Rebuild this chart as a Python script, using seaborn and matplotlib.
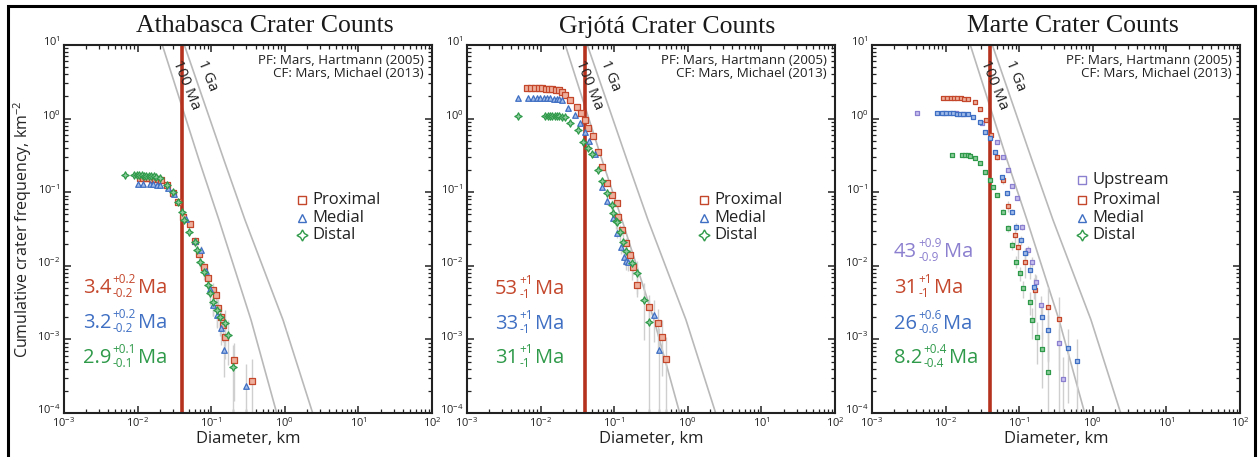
import numpy as np
import pandas as pd
import matplotlib
matplotlib.use("Agg")
import matplotlib.pyplot as plt
import matplotlib.transforms as mtransforms
import seaborn as sns
from matplotlib.patches import Rectangle
from matplotlib.ticker import LogLocator, LogFormatterSciNotation, NullFormatter

# ---------------- crater size-frequency data (D in km, N in km^-2) ----------------
# Athabasca
ath_prox_D = [0.0107, 0.0118, 0.0130, 0.0143, 0.0157, 0.0172, 0.0190, 0.0205, 0.0250, 0.0300,
              0.0350, 0.0418, 0.0515, 0.0600, 0.0689, 0.0806, 0.0895, 0.107, 0.116, 0.125,
              0.135, 0.146, 0.154, 0.204, 0.355]
ath_prox_N = [0.155, 0.155, 0.154, 0.154, 0.153, 0.152, 0.150, 0.146, 0.125, 0.098,
              0.074, 0.0456, 0.037, 0.022, 0.0143, 0.0097, 0.00676, 0.00469, 0.00401, 0.0027,
              0.0020, 0.00157, 0.00109, 0.000525, 0.000275]
ath_med_D = [0.0101, 0.0120, 0.0148, 0.0162, 0.0185, 0.0202, 0.0255, 0.0310, 0.0455, 0.0603,
             0.0720, 0.0850, 0.0970, 0.107, 0.119, 0.136, 0.151, 0.297]
ath_med_N = [0.129, 0.130, 0.129, 0.129, 0.127, 0.125, 0.115, 0.095, 0.0428, 0.0217,
             0.0164, 0.0085, 0.0048, 0.00293, 0.00215, 0.00141, 0.000718, 0.000233]
ath_dist_D = [0.00675, 0.0088, 0.0097, 0.0105, 0.0113, 0.0122, 0.0132, 0.0142, 0.0153, 0.0165,
              0.0178, 0.0200, 0.0254, 0.0305, 0.0357, 0.0397, 0.0427, 0.0504, 0.0603, 0.0647,
              0.0705, 0.0806, 0.0895, 0.0964, 0.107, 0.119, 0.132, 0.154, 0.171, 0.200]
ath_dist_N = [0.171, 0.170, 0.170, 0.169, 0.169, 0.168, 0.168, 0.167, 0.166, 0.165,
              0.163, 0.155, 0.125, 0.102, 0.0743, 0.0543, 0.0419, 0.029, 0.0212, 0.0164,
              0.0114, 0.0083, 0.00548, 0.00423, 0.00325, 0.0025, 0.00203, 0.00165, 0.00115, 0.000426]

# Grjota
grj_prox_D = [0.0065, 0.0075, 0.0085, 0.0095, 0.0105, 0.0117, 0.0130, 0.0145, 0.0160, 0.0178,
              0.0195, 0.0215, 0.0251, 0.0309, 0.0351, 0.0401, 0.0445, 0.0510, 0.0597, 0.0690,
              0.0806, 0.0924, 0.108, 0.114, 0.129, 0.143, 0.164, 0.182, 0.202, 0.297,
              0.398, 0.451, 0.506]
grj_prox_N = [2.60, 2.60, 2.60, 2.60, 2.58, 2.56, 2.55, 2.52, 2.48, 2.42,
              2.30, 2.10, 1.79, 1.45, 1.18, 0.957, 0.738, 0.580, 0.355, 0.218,
              0.135, 0.0916, 0.0706, 0.0465, 0.0306, 0.0202, 0.0140, 0.0097, 0.00548, 0.00279,
              0.00166, 0.00109, 0.000542]
grj_med_D = [0.00493, 0.0068, 0.0078, 0.0088, 0.0098, 0.0110, 0.0122, 0.0135, 0.0150, 0.0165,
             0.0180, 0.0195, 0.0238, 0.0293, 0.0343, 0.0401, 0.0460, 0.0550, 0.0690, 0.0800,
             0.0950, 0.110, 0.125, 0.137, 0.146, 0.155, 0.351, 0.407]
grj_med_N = [1.92, 1.92, 1.92, 1.91, 1.91, 1.90, 1.89, 1.88, 1.86, 1.84,
             1.82, 1.78, 1.38, 1.12, 0.879, 0.664, 0.50, 0.33, 0.119, 0.075,
             0.045, 0.028, 0.018, 0.0133, 0.0118, 0.0114, 0.00215, 0.000718]
grj_dist_D = [0.00493, 0.0114, 0.0125, 0.0135, 0.0145, 0.0156, 0.0168, 0.0180, 0.0195, 0.0214,
              0.0250, 0.0325, 0.0380, 0.0445, 0.0504, 0.0597, 0.0680, 0.0792, 0.0924, 0.0973,
              0.105, 0.108, 0.120, 0.133, 0.146, 0.173, 0.202, 0.257, 0.299]
grj_dist_N = [1.08, 1.08, 1.08, 1.08, 1.08, 1.07, 1.07, 1.07, 1.06, 1.04,
              0.879, 0.700, 0.485, 0.395, 0.327, 0.200, 0.140, 0.0966, 0.0670, 0.0516,
              0.0400, 0.0397, 0.0290, 0.0212, 0.0160, 0.0108, 0.0079, 0.00343, 0.00174]

# Marte
mar_up_D = [0.00404, 0.0095, 0.0140, 0.0180, 0.0309, 0.0494, 0.0608, 0.0698, 0.0790, 0.0924,
            0.108, 0.130, 0.148, 0.167, 0.198, 0.348, 0.397]
mar_up_N = [1.18, 1.18, 1.18, 1.15, 0.863, 0.485, 0.303, 0.200, 0.121, 0.0826,
            0.0340, 0.0164, 0.0114, 0.00608, 0.00293, 0.000885, 0.000287]
mar_prox_D = [0.0092, 0.0105, 0.0118, 0.0130, 0.0145, 0.0160, 0.0178, 0.0200, 0.0251, 0.0293,
              0.0350, 0.0410, 0.0500, 0.0608, 0.0711, 0.0877, 0.0973, 0.120, 0.164, 0.249, 0.348]
mar_prox_N = [1.89, 1.89, 1.89, 1.89, 1.89, 1.88, 1.87, 1.85, 1.70, 1.34,
              0.95, 0.60, 0.30, 0.147, 0.0649, 0.0262, 0.0182, 0.0114, 0.00469, 0.00279, 0.00188]
mar_med_D = [0.0076, 0.0090, 0.0102, 0.0115, 0.0128, 0.0142, 0.0158, 0.0175, 0.0201, 0.0238,
             0.0293, 0.0343, 0.0401, 0.0469, 0.0589, 0.0676, 0.0790, 0.0897, 0.106, 0.120,
             0.140, 0.160, 0.202, 0.249, 0.456, 0.604]
mar_med_N = [1.18, 1.18, 1.18, 1.18, 1.18, 1.17, 1.17, 1.16, 1.14, 1.06,
             0.908, 0.664, 0.540, 0.355, 0.162, 0.0966, 0.0543, 0.0340, 0.0224, 0.0148,
             0.00877, 0.0052, 0.00203, 0.00134, 0.000757, 0.000509]
mar_dist_D = [0.0121, 0.0165, 0.0185, 0.0200, 0.0215, 0.0250, 0.0293, 0.0343, 0.0401, 0.0445,
              0.0494, 0.0608, 0.0711, 0.0805, 0.0897, 0.103, 0.114, 0.140, 0.148, 0.173,
              0.202, 0.249]
mar_dist_N = [0.320, 0.320, 0.320, 0.318, 0.315, 0.288, 0.247, 0.190, 0.147, 0.119,
              0.0916, 0.0543, 0.0323, 0.0192, 0.0114, 0.0079, 0.00494, 0.00325, 0.00184, 0.00109,
              0.000733, 0.000364]

# counting areas (km^2), used for the Poisson error bars
ath_area = [3640, 4290, 2350]
grj_area = [1845, 1393, 575]
mar_area = [3484, 532, 1965, 2747]

# isochrons (Mars, Hartmann 2005 production function)
iso_100ma_D = [0.0187, 0.0221, 0.0683, 0.1276, 0.3475, 0.776, 0.90]
iso_100ma_N = [16.0, 9.4, 0.274, 0.0419, 0.00184, 1.0e-4, 5.9e-5]
iso_1ga_D = [0.0365, 0.0441, 0.149, 0.288, 0.945, 2.39, 2.78]
iso_1ga_N = [16.0, 9.4, 0.274, 0.0419, 0.00184, 1.0e-4, 5.9e-5]

# diameter of the fitting cut-off
fit_min_D = 0.04

panel_titles = ["Athabasca Crater Counts", "Grjótá Crater Counts", "Marte Crater Counts"]
ath_ages = [("3.4", "+0.2", "-0.2"), ("3.2", "+0.2", "-0.2"), ("2.9", "+0.1", "-0.1")]
grj_ages = [("53", "+1", "-1"), ("33", "+1", "-1"), ("31", "+1", "-1")]
mar_ages = [("43", "+0.9", "-0.9"), ("31", "+1", "-1"), ("26", "+0.6", "-0.6"), ("8.2", "+0.4", "-0.4")]

# ---------------- styling ----------------
RED, BLUE, GREEN, PURPLE = "#c4472c", "#3f6fc3", "#2f9a4a", "#8b7fcf"
LIGHT = {RED: "#eeb09c", BLUE: "#a2bce9", GREEN: "#8ccb9b", PURPLE: "#c8c1ee"}
STAR = (4, 1, 0)

sns.set_theme(style="ticks")
SANS = ["Open Sans", "DejaVu Sans"]
plt.rcParams["font.family"] = SANS
plt.rcParams["mathtext.fontset"] = "custom"
plt.rcParams["mathtext.rm"] = "Open Sans"
plt.rcParams["mathtext.it"] = "Open Sans:italic"
plt.rcParams["mathtext.bf"] = "Open Sans:bold"

fig = plt.figure(figsize=(12.58, 4.57), dpi=100)
W, H = 1258.0, 457.0
lefts = [64, 467, 872]
axes = [fig.add_axes([l / W, (H - 413) / H, 368 / W, 368 / H]) for l in lefts]


def series_frame(D, N, area):
    N = np.asarray(N, float)
    err = np.sqrt(N / area)
    return pd.DataFrame({"D": D, "N": N, "lo": np.clip(N - err, 1e-6, None), "hi": N + err})


panels = [
    [("Proximal", ath_prox_D, ath_prox_N, ath_area[0], RED, "s", 13),
     ("Medial", ath_med_D, ath_med_N, ath_area[1], BLUE, "^", 16),
     ("Distal", ath_dist_D, ath_dist_N, ath_area[2], GREEN, STAR, 28)],
    [("Proximal", grj_prox_D, grj_prox_N, grj_area[0], RED, "s", 13),
     ("Medial", grj_med_D, grj_med_N, grj_area[1], BLUE, "^", 16),
     ("Distal", grj_dist_D, grj_dist_N, grj_area[2], GREEN, STAR, 28)],
    [("Upstream", mar_up_D, mar_up_N, mar_area[0], PURPLE, "s", 11),
     ("Proximal", mar_prox_D, mar_prox_N, mar_area[1], RED, "s", 11),
     ("Medial", mar_med_D, mar_med_N, mar_area[2], BLUE, "s", 11),
     ("Distal", mar_dist_D, mar_dist_N, mar_area[3], GREEN, "s", 11)],
]
legend_markers = {"Upstream": "s", "Proximal": "s", "Medial": "^", "Distal": STAR}
legend_colors = {"Upstream": PURPLE, "Proximal": RED, "Medial": BLUE, "Distal": GREEN}
ages = [ath_ages, grj_ages, mar_ages]
age_colors = [[RED, BLUE, GREEN], [RED, BLUE, GREEN], [PURPLE, RED, BLUE, GREEN]]
age_rows = [[0.326, 0.231, 0.136], [0.323, 0.228, 0.136], [0.424, 0.326, 0.228, 0.136]]
age_x = [0.052, 0.076, 0.060]
legend_rows = [[0.579, 0.530, 0.484], [0.579, 0.530, 0.484], [0.633, 0.579, 0.530, 0.484]]
legend_x = [0.647, 0.644, 0.571]

renderer = fig.canvas.get_renderer()


def age_label(ax, x, y, value, up, lo, color):
    t = ax.text(x, y, value, transform=ax.transAxes, fontsize=14.5, color=color,
                ha="left", va="baseline", zorder=6)
    bb = t.get_window_extent(renderer)
    bx, by = ax.transAxes.transform((x, y))
    x0 = bb.x1 + 1
    inv = ax.transAxes.inverted()
    ts = ax.text(*inv.transform((x0, by + 10)), up, transform=ax.transAxes, fontsize=8.5,
                 color=color, ha="left", va="baseline", zorder=6)
    tl = ax.text(*inv.transform((x0, by - 4)), lo, transform=ax.transAxes, fontsize=8.5,
                 color=color, ha="left", va="baseline", zorder=6)
    w = max(ts.get_window_extent(renderer).width, tl.get_window_extent(renderer).width)
    ax.text(*inv.transform((x0 + w + 2, by)), "Ma", transform=ax.transAxes, fontsize=14.5,
            color=color, ha="left", va="baseline", zorder=6)


for i, ax in enumerate(axes):
    ax.set_xscale("log")
    ax.set_yscale("log")
    ax.set_xlim(1e-3, 1e2)
    ax.set_ylim(1e-4, 1e1)

    ax.plot(iso_100ma_D, iso_100ma_N, color="#b9b9b9", lw=1.2, zorder=1)
    ax.plot(iso_1ga_D, iso_1ga_N, color="#b9b9b9", lw=1.2, zorder=1)
    ax.axvline(fit_min_D, color="#b5321e", lw=2.6, zorder=2)

    for name, D, N, area, col, mk, s in panels[i]:
        df = series_frame(D, N, area)
        ax.vlines(df["D"], df["lo"], df["hi"], color="#cfcfcf", lw=1.0, zorder=2.5)
        sns.scatterplot(data=df, x="D", y="N", ax=ax, marker=mk, s=s, color=LIGHT[col],
                        edgecolor=col, linewidth=0.9, zorder=3, legend=False)

    # isochron labels
    ax.text(0.0455, 2.87, "100 Ma", rotation=-68, rotation_mode="anchor", ha="center",
            va="center", fontsize=11, color="#222222", zorder=4)
    ax.text(0.089, 3.8, "1 Ga", rotation=-68, rotation_mode="anchor", ha="center",
            va="center", fontsize=11, color="#222222", zorder=4)

    # production / chronology function note
    ax.text(0.978, 0.958, "PF: Mars, Hartmann (2005)", transform=ax.transAxes, ha="right",
            va="center", fontsize=9.6, color="#222222")
    ax.text(0.978, 0.922, "CF: Mars, Michael (2013)", transform=ax.transAxes, ha="right",
            va="center", fontsize=9.6, color="#222222")

    # legend
    for (name, *_), yy in zip(panels[i], legend_rows[i]):
        mk = legend_markers[name]
        ax.plot([legend_x[i]], [yy], transform=ax.transAxes, marker=mk, ls="none",
                ms=6 if mk != STAR else 8, mfc="white", mec=legend_colors[name], mew=1.0,
                clip_on=False, zorder=5)
        ax.text(legend_x[i] + 0.028, yy, name, transform=ax.transAxes, ha="left",
                va="center", fontsize=12, color="#222222")

    # model ages
    for (v, up, lo), col, yy in zip(ages[i], age_colors[i], age_rows[i]):
        age_label(ax, age_x[i], yy, v, up, lo, col)

    ax.set_title(panel_titles[i], family=["Liberation Serif", "DejaVu Serif"], fontsize=18.5,
                 color="#1a1a1a", pad=9, x=0.545)
    ax.set_xlabel("Diameter, km", fontsize=12, labelpad=0.5, color="#222222")
    ax.set_ylabel("")

    ax.xaxis.set_major_locator(LogLocator(base=10, numticks=10))
    ax.yaxis.set_major_locator(LogLocator(base=10, numticks=10))
    ax.xaxis.set_minor_locator(LogLocator(base=10, subs=np.arange(2, 10), numticks=20))
    ax.yaxis.set_minor_locator(LogLocator(base=10, subs=np.arange(2, 10), numticks=20))
    ax.xaxis.set_major_formatter(LogFormatterSciNotation())
    ax.yaxis.set_major_formatter(LogFormatterSciNotation())
    ax.xaxis.set_minor_formatter(NullFormatter())
    ax.yaxis.set_minor_formatter(NullFormatter())
    ax.tick_params(which="both", direction="in", top=True, right=True, color="#222222")
    ax.tick_params(which="major", length=5, width=1.1, labelsize=8, pad=2.5, labelcolor="#222222")
    ax.tick_params(which="minor", length=2.8, width=0.9)
    for sp in ax.spines.values():
        sp.set_linewidth(1.5)
        sp.set_color("#222222")
    ax.set_facecolor("white")

    # y tick labels sit a little above their ticks
    lift = mtransforms.ScaledTranslation(0, 4 / 100, fig.dpi_scale_trans)
    for tick in ax.yaxis.get_major_ticks():
        tick.label1.set_transform(tick.label1.get_transform() + lift)

axes[0].set_ylabel("Cumulative crater frequency, km$^{-2}$", fontsize=11.5, labelpad=2,
                   color="#222222")

fig.patches.append(Rectangle((8 / W, -0.05), (1255 - 8) / W, (H - 6) / H + 0.05,
                             transform=fig.transFigure, fill=False, lw=2.2, ec="black"))

fig.savefig("out.png", dpi=100, facecolor="white")
